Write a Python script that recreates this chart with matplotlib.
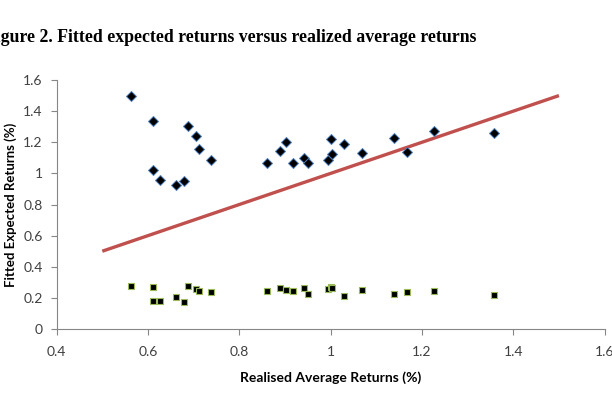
import matplotlib
matplotlib.use("Agg")
from matplotlib import pyplot as plt

# realised average returns (%) and the two fitted series
realised = [0.563, 0.610, 0.612, 0.627, 0.661, 0.678, 0.688, 0.705, 0.711, 0.738,
            0.860, 0.889, 0.902, 0.918, 0.942, 0.951, 0.994, 1.001, 1.003, 1.030,
            1.068, 1.139, 1.167, 1.227, 1.358]
fitted_a = [1.497, 1.020, 1.335, 0.958, 0.923, 0.949, 1.305, 1.240, 1.157, 1.084,
            1.069, 1.144, 1.204, 1.067, 1.101, 1.065, 1.086, 1.221, 1.127, 1.189,
            1.129, 1.225, 1.140, 1.272, 1.258]
fitted_b = [0.276, 0.182, 0.272, 0.182, 0.208, 0.175, 0.278, 0.257, 0.242, 0.238,
            0.244, 0.261, 0.250, 0.242, 0.261, 0.225, 0.255, 0.272, 0.262, 0.212,
            0.251, 0.225, 0.240, 0.246, 0.216]
line_x = [0.5, 1.5]
line_y = [0.5, 1.5]

xticks = [0.4, 0.6, 0.8, 1.0, 1.2, 1.4, 1.6]
xtick_labels = ["0.4", "0.6", "0.8", "1", "1.2", "1.4", "1.6"]
yticks = [0, 0.2, 0.4, 0.6, 0.8, 1.0, 1.2, 1.4, 1.6]
ytick_labels = ["0", "0.2", "0.4", "0.6", "0.8", "1", "1.2", "1.4", "1.6"]

plt.rcParams['font.family'] = ['Lato', 'DejaVu Sans']

fig = plt.figure(figsize=(6.12, 4.04), dpi=100)
ax = fig.add_axes([0.0925, 0.1856, 0.8954, 0.6163])

ax.plot(line_x, line_y, color='#C0504D', lw=2.4, solid_capstyle='butt', zorder=2)
ax.plot(realised, fitted_a, 'D', ms=5.4, mfc='black', mec='#4F81BD', mew=0.7, zorder=3)
ax.plot(realised, fitted_b, 's', ms=5, mfc='black', mec='#9BBB59', mew=0.8, zorder=3)

ax.set_xlim(0.4, 1.6)
ax.set_ylim(0, 1.6)
ax.set_xticks(xticks)
ax.set_xticklabels(xtick_labels)
ax.set_yticks(yticks)
ax.set_yticklabels(ytick_labels)

for s in ['top', 'right']:
    ax.spines[s].set_visible(False)
for s in ['left', 'bottom']:
    ax.spines[s].set_color('#868686')
    ax.spines[s].set_linewidth(0.8)
ax.tick_params(colors='#868686', length=4, width=0.8, labelcolor='#404040', labelsize=10)
ax.tick_params(axis='x', pad=8)
ax.tick_params(axis='y', pad=6)

ax.set_xlabel("Realised Average Returns (%)", fontsize=10, fontweight='bold', labelpad=10)
ax.set_ylabel("Fitted Expected Returns (%)", fontsize=9.5, fontweight='bold')
ax.yaxis.set_label_coords(-0.072, 0.5)

fig.text(-0.0245, 0.908, "Figure 2. Fitted expected returns versus realized average returns",
         family=['Liberation Serif'], fontweight='bold', fontsize=12.8, ha='left', va='center')

fig.savefig("out.png", dpi=100)
